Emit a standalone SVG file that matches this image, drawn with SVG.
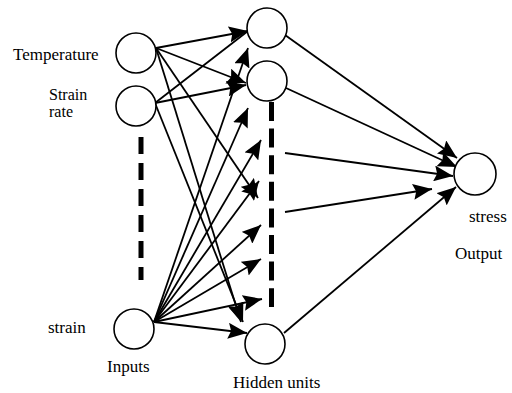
<svg xmlns="http://www.w3.org/2000/svg" width="512" height="393" viewBox="0 0 512 393">
<defs>
<style>
.n{fill:#fff;stroke:#000;stroke-width:1.6}
.c{stroke:#000;stroke-width:1.8;fill:none}
.a{marker-end:url(#ah)}
.d{stroke:#000;stroke-width:5;fill:none}
text{font-family:"Liberation Serif","Times New Roman",serif;font-size:17px;fill:#000}
.s{font-size:16px}
</style>
<marker id="ah" markerUnits="userSpaceOnUse" markerWidth="20" markerHeight="16" viewBox="0 0 20 16" refX="19" refY="8" orient="auto">
<path d="M0,0 L19,8 L0,16 L3,8 z" fill="#000"/>
</marker>
</defs>
<rect width="512" height="393" fill="#fff"/>
<g id="connectors">
<line class="c a" x1="156" y1="48" x2="248" y2="31"/>
<line class="c a" x1="156" y1="48" x2="246" y2="83"/>
<line class="c a" x1="156" y1="48" x2="258" y2="198"/>
<line class="c a" x1="156" y1="48" x2="241" y2="322"/>
<line class="c" x1="155" y1="103" x2="248" y2="31"/>
<line class="c a" x1="155" y1="103" x2="246" y2="85"/>
<line class="c a" x1="155" y1="103" x2="243" y2="322"/>
<line class="c a" x1="154" y1="322" x2="248" y2="48"/>
<line class="c a" x1="154" y1="322" x2="248" y2="108"/>
<line class="c a" x1="154" y1="322" x2="261" y2="140"/>
<line class="c a" x1="154" y1="322" x2="259" y2="181"/>
<line class="c a" x1="154" y1="322" x2="261" y2="225"/>
<line class="c a" x1="154" y1="322" x2="261" y2="259"/>
<line class="c a" x1="154" y1="322" x2="262" y2="299"/>
<line class="c a" x1="154" y1="322" x2="247" y2="333"/>
<line class="c a" x1="285" y1="35" x2="457" y2="158"/>
<line class="c a" x1="286" y1="88" x2="457" y2="167"/>
<line class="c a" x1="285" y1="153" x2="453" y2="176"/>
<line class="c a" x1="285" y1="212" x2="432" y2="189"/>
<line class="c a" x1="284" y1="333" x2="456" y2="187"/>
<line class="d" x1="141" y1="137" x2="141" y2="280" stroke-dasharray="17 9"/>
<line class="d" x1="271.5" y1="102" x2="271.5" y2="307" stroke-dasharray="19 7.6"/>
</g>
<g id="in-temperature"><circle class="n" cx="136" cy="53" r="20"/><text x="13" y="60">Temperature</text></g>
<g id="in-strainrate"><circle class="n" cx="136" cy="106" r="20"/><text class="s" x="49" y="100">Strain</text><text class="s" x="49" y="117">rate</text></g>
<g id="in-strain"><circle class="n" cx="134" cy="329" r="20"/><text x="48" y="333">strain</text></g>
<g id="h1"><circle class="n" cx="267" cy="28" r="20"/></g>
<g id="h2"><circle class="n" cx="267" cy="81" r="20"/></g>
<g id="hn"><circle class="n" cx="265" cy="344" r="20"/></g>
<g id="out"><circle class="n" cx="475" cy="174" r="21"/><text x="469" y="222">stress</text><text x="455" y="259">Output</text></g>
<g id="labels"><text x="107" y="372">Inputs</text><text x="233" y="388">Hidden units</text></g>
</svg>
